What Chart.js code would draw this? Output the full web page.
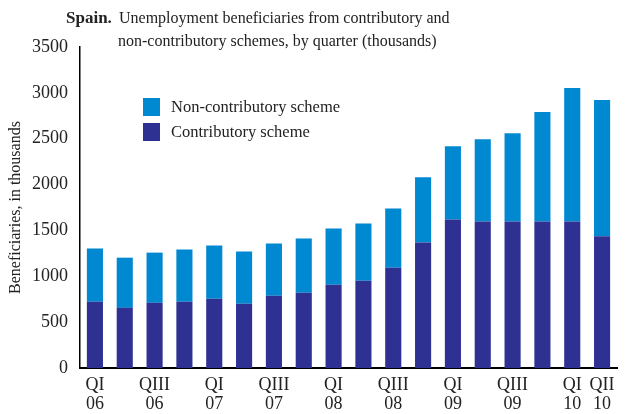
<!DOCTYPE html>
<html lang="en">
  <head>
    <meta charset="UTF-8" />
    <script src="https://cdn.jsdelivr.net/npm/chart.js"></script>
    <title>Spain unemployment beneficiaries</title>
    <style>
      html, body { margin: 0; padding: 0; background: #fff; }
      canvas { display: block; }
    </style>
  </head>
  <body>
    <canvas id="beneficiariesChart" width="627" height="414"></canvas>

    <script>
      const quarters = [
        "QI 06", "QII 06", "QIII 06", "QIV 06",
        "QI 07", "QII 07", "QIII 07", "QIV 07",
        "QI 08", "QII 08", "QIII 08", "QIV 08",
        "QI 09", "QII 09", "QIII 09", "QIV 09",
        "QI 10", "QII 10",
      ];
      const shownTicks = [
        "QI 06", "QIII 06", "QI 07", "QIII 07", "QI 08",
        "QIII 08", "QI 09", "QIII 09", "QI 10", "QII 10",
      ];
      const contributory = [
        722, 656, 711, 722, 755, 700, 788, 821, 908, 952, 1094, 1368, 1619,
        1597, 1597, 1597, 1597, 1436,
      ];
      const nonContributory = [
        580, 547, 547, 569, 580, 569, 569, 590, 613, 623, 645, 711, 799, 897,
        963, 1193, 1455, 1485,
      ];
      const yTicks = [0, 500, 1000, 1500, 2000, 2500, 3000, 3500];

      const SERIF = "'Liberation Serif', 'DejaVu Serif', serif";
      const DARK = "#2e3192";
      const LIGHT = "#0088d1";

      // title + legend are drawn by hand so they sit where the original has them
      const decorations = {
        id: "decorations",
        afterDraw(chart) {
          const ctx = chart.ctx;
          ctx.save();
          ctx.fillStyle = "#222";
          ctx.textBaseline = "alphabetic";
          ctx.font = "bold 17px " + SERIF;
          ctx.fillText("Spain.", 66, 23);
          ctx.font = "16px " + SERIF;
          ctx.fillText("Unemployment beneficiaries from contributory and", 119, 23);
          ctx.fillText("non-contributory schemes, by quarter (thousands)", 118, 46);

          const items = [
            { text: "Non-contributory scheme", color: LIGHT, y: 98 },
            { text: "Contributory scheme", color: DARK, y: 123 },
          ];
          ctx.font = "16.5px " + SERIF;
          items.forEach((it) => {
            ctx.fillStyle = it.color;
            ctx.fillRect(143, it.y, 17, 18);
            ctx.fillStyle = "#222";
            ctx.fillText(it.text, 171, it.y + 14);
          });
          ctx.restore();
        },
      };

      new Chart(document.getElementById("beneficiariesChart"), {
        type: "bar",
        data: {
          labels: quarters,
          datasets: [
            {
              label: "Contributory scheme",
              data: contributory,
              backgroundColor: DARK,
              barPercentage: 0.54,
              categoryPercentage: 1,
            },
            {
              label: "Non-contributory scheme",
              data: nonContributory,
              backgroundColor: LIGHT,
              barPercentage: 0.54,
              categoryPercentage: 1,
            },
          ],
        },
        options: {
          responsive: false,
          animation: false,
          layout: { padding: { top: 47, right: 10, left: 0, bottom: 0 } },
          plugins: {
            legend: { display: false },
            tooltip: { enabled: false },
          },
          scales: {
            x: {
              stacked: true,
              grid: { display: false, drawTicks: false },
              border: { display: true, color: "#000", width: 2 },
              ticks: {
                autoSkip: false,
                maxRotation: 0,
                padding: 7,
                color: "#222",
                font: { family: SERIF, size: 18, lineHeight: 1.1 },
                callback: function (value, index) {
                  const q = quarters[index];
                  return shownTicks.includes(q) ? q.split(" ") : "";
                },
              },
              afterFit: (scale) => {
                scale.height = 46;
              },
            },
            y: {
              stacked: true,
              min: 0,
              max: 3500,
              grid: { display: false, drawTicks: false },
              border: { display: true, color: "#000", width: 1.5 },
              afterBuildTicks: (scale) => {
                scale.ticks = yTicks.map((v) => ({ value: v }));
              },
              ticks: {
                padding: 12,
                color: "#222",
                font: { family: SERIF, size: 18 },
                callback: (value) => String(value),
              },
              title: {
                display: true,
                text: "Beneficiaries, in thousands",
                color: "#222",
                font: { family: SERIF, size: 16 },
                padding: { top: 6, bottom: 0 },
              },
              afterFit: (scale) => {
                scale.width = 80;
              },
            },
          },
        },
        plugins: [decorations],
      });
    </script>
  </body>
</html>
